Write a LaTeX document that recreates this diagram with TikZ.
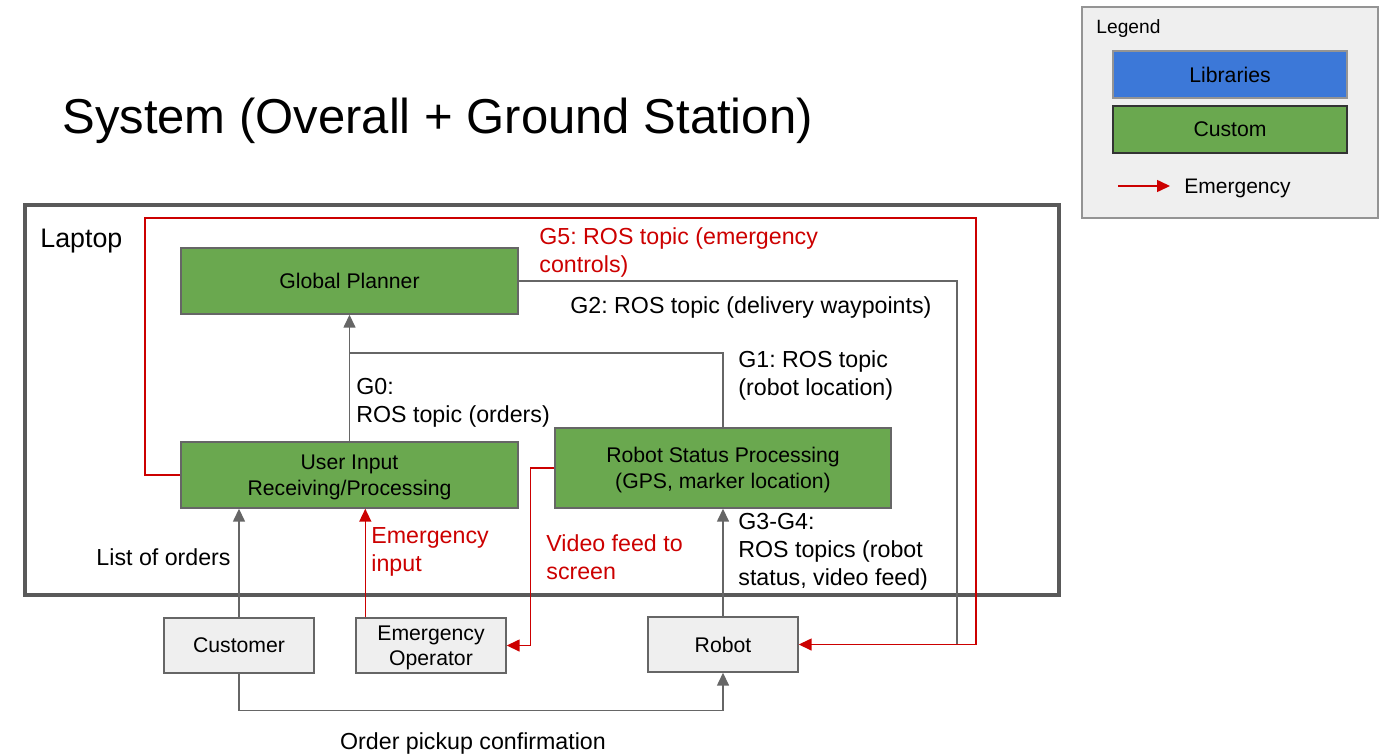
\documentclass[tikz,border=0pt]{standalone}
\usepackage{fontspec}
\setmainfont{Liberation Sans}
\frenchspacing
\usetikzlibrary{positioning, arrows.meta}
\definecolor{customgreen}{HTML}{6AA84F}
\definecolor{libblue}{HTML}{3C78D8}
\definecolor{actorgray}{HTML}{EFEFEF}
\definecolor{wiregray}{HTML}{666666}
\definecolor{emred}{HTML}{CC0000}

\begin{document}
\begin{tikzpicture}[x=0.5pt, y=-0.5pt,
      custombox/.style={draw=wiregray, fill=customgreen, line width=0.7pt, inner sep=0pt,
        minimum width=168.5pt, minimum height=33pt, align=center,
        font=\fontsize{10.6}{13}\selectfont},
      actorbox/.style={draw=wiregray, fill=actorgray, line width=0.7pt, inner sep=0pt,
        minimum width=75pt, minimum height=27.5pt, align=center,
        font=\fontsize{10.6}{12.5}\selectfont},
      wire/.style={draw=wiregray, line width=0.75pt},
      flow/.style={wire, -{Triangle[width=6pt, length=6.5pt]}},
      emflow/.style={draw=emred, line width=0.75pt, -{Triangle[width=6pt, length=6.5pt]}},
      flowlabel/.style={anchor=base west, inner sep=0pt, align=left,
        font=\fontsize{11.6}{13.9}\selectfont},
      emlabel/.style={flowlabel, text=emred}
    ]
    \newcommand\toppad{\rule{0pt}{9.8pt}}
    \useasboundingbox (0,0) rectangle (1379,755);
    \node[anchor=base west, inner sep=0pt, font=\fontsize{24.5}{29}\selectfont] (title) at (62,133) {System (Overall + Ground Station)};

    % legend
    \draw[draw=wiregray!70, fill=actorgray, line width=0.6pt] (1082,7) rectangle (1378,218);
    \node[anchor=base west, inner sep=0pt, font=\fontsize{9.6}{12}\selectfont] (legendtitle) at (1096,33) {Legend};
    \node[custombox, fill=libblue, draw=wiregray!70, minimum width=117pt, minimum height=23.5pt] (libraries) at (1230,74.5) {Libraries};
    \node[custombox, draw=black!80, minimum width=117pt, minimum height=23.5pt] (custom) at (1230,129.5) {Custom};
    \coordinate (legendtail) at (1118,186);
    \coordinate (legendtip) at (1170,186);
    \draw[emflow] (legendtail) -- (legendtip);
    \node[anchor=base west, inner sep=0pt, font=\fontsize{10.5}{13}\selectfont] (legendem) at (1184,193) {Emergency};

    % laptop
    \draw[draw=black!65, line width=1.7pt] (25,205) rectangle (1059,595);
    \node[anchor=base west, inner sep=0pt, font=\fontsize{13.4}{16}\selectfont] (laptoplabel) at (40,247) {Laptop};

    \node[custombox] (planner) at (349.5,281) {Global Planner};
    \node[custombox] (userinput) at (349.5,475) {\toppad User Input\\Receiving/Processing};
    \node[custombox, minimum width=168pt, minimum height=40pt] (status) at (723,468) {\toppad Robot Status Processing\\(GPS, marker location)};

    \node[actorbox] (customer) at (239,645.5) {Customer};
    \node[actorbox] (operator) at (431,645.5) {\toppad Emergency\\Operator};
    \node[actorbox] (robot) at (723,644.5) {Robot};

    \coordinate (g1join) at (349.5,353);
    \coordinate (g2end) at (957,644.5);
    \coordinate (g5left) at (145,218);
    \coordinate (g5right) at (976,218);

    \draw[wire] (planner.east) -| (g2end);
    \draw[wire] (status.north) |- (g1join);
    \draw[flow] (userinput.north) -- (planner.south);
    \draw[flow] (customer.north) -- (customer.north |- userinput.south);
    \draw[flow] (robot.north) -- (status.south);
    \draw[flow] (customer.south) -- ++(0,37) -| (robot.south);

    \draw[emflow] (userinput.west) -| (g5left) -- (g5right) |- (robot.east);
    \draw[emflow] ([xshift=5pt]operator.north west) -- ([xshift=5pt]operator.north west |- userinput.south);
    \draw[emflow] (status.west) -- ++(-24,0) |- (operator.east);

    \node[emlabel] (g5label) at (539,272) {G5: ROS topic (emergency\\controls)};
    \node[flowlabel] (g2label) at (570,313) {G2: ROS topic (delivery waypoints)};
    \node[flowlabel] (g1label) at (738,395) {G1: ROS topic\\(robot location)};
    \node[flowlabel] (g0label) at (356,422) {G0:\\ROS topic (orders)};
    \node[flowlabel, anchor=base east] (orderslabel) at (231,565) {List of orders};
    \node[emlabel] (eminput) at (371,571) {Emergency\\input};
    \node[emlabel] (videolabel) at (546,579) {Video feed to\\screen};
    \node[flowlabel] (g3label) at (738,585) {G3-G4:\\ROS topics (robot\\status, video feed)};
    \node[flowlabel, anchor=base] (pickuplabel) at (473,749) {Order pickup confirmation};
  \end{tikzpicture}
\end{document}
